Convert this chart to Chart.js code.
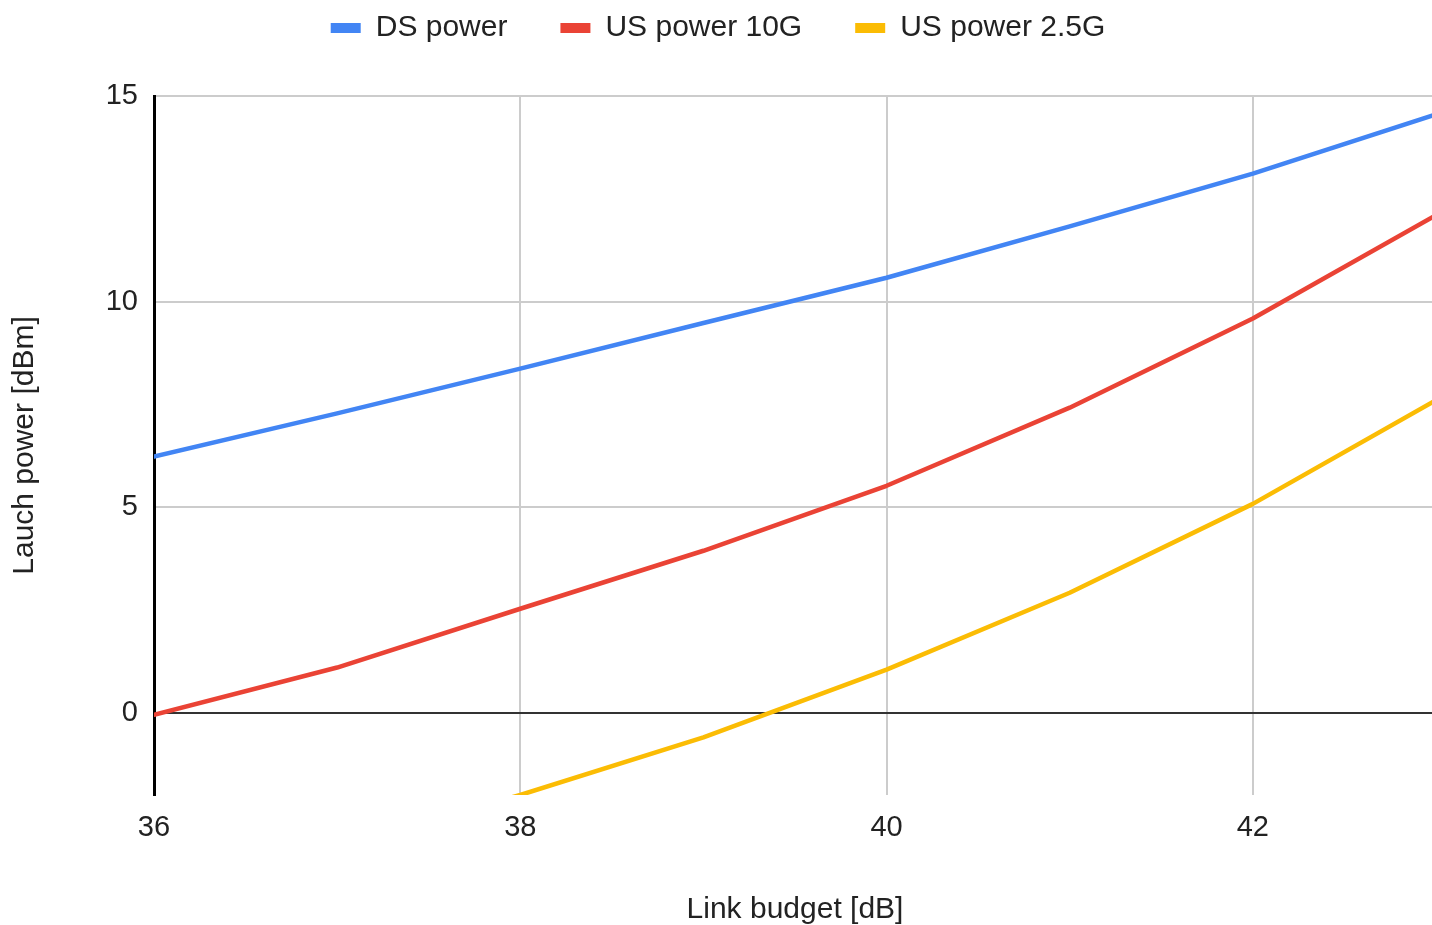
<!DOCTYPE html>
<html>
<head>
<meta charset="utf-8">
<script src="https://cdn.jsdelivr.net/npm/chart.js@4.4.1/dist/chart.umd.min.js"></script>
<style>
  html, body { margin: 0; padding: 0; background: #fff; overflow: hidden; }
  #wrap { position: relative; width: 1436px; height: 925px; }
</style>
</head>
<body>
<div id="wrap"><canvas id="c"></canvas></div>
<script>
const linkBudget = [36, 37, 38, 39, 40, 41, 42, 43];
const dsPower = [6.23, 7.28, 8.37, 9.48, 10.58, 11.83, 13.11, 14.55];
const usPower10G = [-0.05, 1.1, 2.53, 3.94, 5.52, 7.42, 9.59, 12.1];
const usPower25G = [-4.25, -3.2, -2.0, -0.6, 1.05, 2.92, 5.08, 7.6];
const xTicks = [36, 38, 40, 42];
const yTicks = [0, 5, 10, 15];

const toPts = arr => arr.map((v, i) => ({ x: linkBudget[i], y: v }));
const FONT = "Arial, 'Liberation Sans', sans-serif";
const LAYOUT_TOP = -40;
const LEGEND_H = 136;

const legendHeightPlugin = {
  id: 'legendHeight',
  beforeUpdate(chart) {
    const lg = chart.legend;
    if (lg && !lg._patched) {
      const orig = lg.fit;
      lg.fit = function () { orig.call(this); this.height = LEGEND_H; };
      lg._patched = true;
    }
  }
};

new Chart(document.getElementById('c'), {
  type: 'line',
  data: {
    datasets: [
      { label: 'DS power', data: toPts(dsPower), borderColor: '#4285F4', backgroundColor: '#4285F4' },
      { label: 'US power 10G', data: toPts(usPower10G), borderColor: '#EA4335', backgroundColor: '#EA4335' },
      { label: 'US power 2.5G', data: toPts(usPower25G), borderColor: '#FBBC04', backgroundColor: '#FBBC04' }
    ]
  },
  plugins: [legendHeightPlugin],
  options: {
    responsive: true,
    maintainAspectRatio: false,
    animation: false,
    layout: { padding: { left: 0, right: 0, top: LAYOUT_TOP, bottom: 0 } },
    elements: {
      line: { borderWidth: 4.5, tension: 0, borderJoinStyle: 'round', borderCapStyle: 'round' },
      point: { radius: 0, hoverRadius: 0 }
    },
    plugins: {
      legend: {
        position: 'top',
        labels: {
          font: { family: FONT, size: 30 },
          color: '#222',
          boxWidth: 30,
          boxHeight: 10,
          padding: 53,
          generateLabels: chart => Chart.defaults.plugins.legend.labels.generateLabels(chart).map(l => Object.assign(l, { lineWidth: 0 }))
        }
      },
      tooltip: { enabled: false }
    },
    scales: {
      x: {
        type: 'linear',
        min: 36,
        max: 43,
        afterBuildTicks: s => { s.ticks = xTicks.map(v => ({ value: v })); },
        afterFit: s => { s.height = 130; },
        border: { display: false },
        grid: { color: '#cccccc', lineWidth: 2, drawTicks: false },
        ticks: { font: { family: FONT, size: 29 }, color: '#222', padding: 16, maxRotation: 0 },
        title: { display: true, text: 'Link budget [dB]', font: { family: FONT, size: 30, lineHeight: 1 }, color: '#222', padding: { top: 0, bottom: 0 } }
      },
      y: {
        min: -2,
        max: 15,
        afterBuildTicks: s => { s.ticks = yTicks.map(v => ({ value: v })); },
        afterFit: s => { s.width = 154; },
        border: { display: true, color: '#000', width: 3 },
        grid: {
          color: ctx => (ctx.tick && ctx.tick.value === 0 ? '#333' : '#cccccc'),
          lineWidth: 2,
          drawTicks: false
        },
        ticks: { font: { family: FONT, size: 29 }, color: '#222', padding: 16 },
        title: { display: true, text: 'Lauch power [dBm]', font: { family: FONT, size: 30, lineHeight: 1 }, color: '#222', padding: { top: 10, bottom: 0 } }
      }
    }
  }
});
</script>
</body>
</html>
